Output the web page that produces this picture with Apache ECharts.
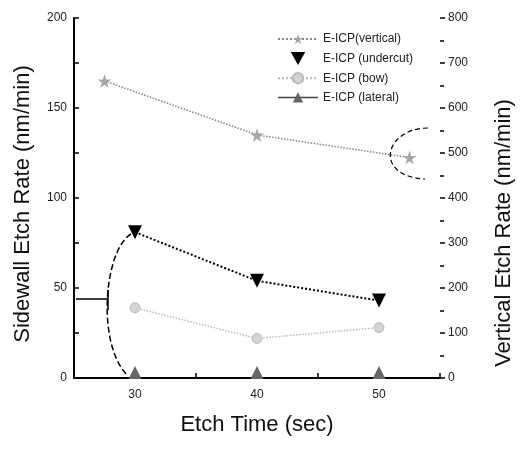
<!DOCTYPE html>
<html>
<head>
<meta charset="utf-8">
<script src="https://cdn.jsdelivr.net/npm/echarts@6/dist/echarts.min.js"></script>
<style>html,body{margin:0;padding:0;background:#fff}#c{width:525px;height:449px}</style>
</head>
<body>
<div id="c"></div>
<script>
// Data
var verticalTime = [27.5, 40, 52.5];
var verticalRate = [660, 540, 490];          // right axis (nm/min)
var etchTime = [30, 40, 50];
var undercutRate = [81, 54, 43];             // left axis
var bowRate = [39, 22, 28];                  // left axis
var lateralRate = [3, 3, 3];                 // left axis
var xTickLabels = [30, 40, 50];
var seriesNames = ['E-ICP(vertical)', 'E-ICP (undercut)', 'E-ICP (bow)', 'E-ICP (lateral)'];

function pairs(xs, ys) { return xs.map(function (x, i) { return [x, ys[i]]; }); }

var STAR = 'path://M50,0 L61,35 L98,35 L68,57 L79,91 L50,70 L21,91 L32,57 L2,35 L39,35 Z';
var DOWN_TRI = 'path://M0,0 L100,0 L50,90 Z';
var FONT = 'Liberation Sans';

var chart = echarts.init(document.getElementById('c'));
var axisLabel = { fontFamily: FONT, fontSize: 12, color: '#222' };
function nameStyle(pad) { return { fontFamily: FONT, fontSize: 22, color: '#111', padding: pad }; }

chart.setOption({
  animation: false,
  backgroundColor: '#fff',
  grid: { left: 74, right: 85, top: 18, bottom: 71 },
  legend: {
    orient: 'vertical', left: 272, top: 28, itemGap: 7, itemWidth: 40, itemHeight: 13,
    textStyle: { fontFamily: FONT, fontSize: 12, color: '#222' },
    data: [
      { name: seriesNames[0] },
      { name: seriesNames[1], icon: DOWN_TRI },
      { name: seriesNames[2] },
      { name: seriesNames[3], lineStyle: { opacity: 1, color: '#444', width: 1.5, type: 'solid' } }
    ]
  },
  xAxis: {
    type: 'value', min: 25, max: 55, interval: 5,
    name: 'Etch Time (sec)', nameLocation: 'middle', nameGap: 36, nameTextStyle: nameStyle(0),
    axisLine: { lineStyle: { color: '#000', width: 2 } },
    axisTick: { inside: true, length: 5, lineStyle: { color: '#000', width: 1.5 } },
    axisLabel: Object.assign({ margin: 11, formatter: function (v) { return xTickLabels.indexOf(v) >= 0 ? String(v) : ''; } }, axisLabel),
    splitLine: { show: false }
  },
  yAxis: [
    {
      type: 'value', min: 0, max: 200, interval: 50, position: 'left',
      name: 'Sidewall Etch Rate (nm/min)', nameLocation: 'middle', nameGap: 40, nameRotate: 90,
      nameTextStyle: nameStyle([0, 12, 0, 0]),
      axisLine: { show: true, lineStyle: { color: '#000', width: 2 } },
      axisTick: { show: true, inside: true, length: 5, lineStyle: { color: '#000', width: 1.5 } },
      minorTick: { show: true, splitNumber: 2, length: 5, lineStyle: { color: '#000', width: 1.5 } },
      axisLabel: Object.assign({ margin: 7 }, axisLabel),
      splitLine: { show: false }
    },
    {
      type: 'value', min: 0, max: 800, interval: 100, position: 'right',
      name: 'Vertical Etch Rate (nm/min)', nameLocation: 'middle', nameGap: 53, nameRotate: 90,
      nameTextStyle: nameStyle([0, 70, 0, 0]),
      axisLine: { show: false },
      axisTick: { show: true, inside: false, length: 5, lineStyle: { color: '#000', width: 1.5 } },
      minorTick: { show: true, splitNumber: 2, length: 4, lineStyle: { color: '#000', width: 1.5 } },
      axisLabel: Object.assign({ margin: 8 }, axisLabel),
      splitLine: { show: false }
    }
  ],
  series: [
    {
      name: seriesNames[0], type: 'line', yAxisIndex: 1, data: pairs(verticalTime, verticalRate),
      symbol: STAR, symbolSize: 14, itemStyle: { color: '#a8a8a8' },
      lineStyle: { color: '#888', width: 1.5, type: 'dotted' }
    },
    {
      name: seriesNames[1], type: 'line', yAxisIndex: 0, data: pairs(etchTime, undercutRate),
      symbol: 'triangle', symbolRotate: 180, symbolSize: 14, itemStyle: { color: '#000' },
      lineStyle: { color: '#000', width: 2, type: 'dotted' }
    },
    {
      name: seriesNames[2], type: 'line', yAxisIndex: 0, data: pairs(etchTime, bowRate),
      symbol: 'circle', symbolSize: 10, itemStyle: { color: '#d4d4d4', borderColor: '#bbb', borderWidth: 1 },
      lineStyle: { color: '#bbb', width: 1.5, type: 'dotted' }
    },
    {
      name: seriesNames[3], type: 'line', yAxisIndex: 0, data: pairs(etchTime, lateralRate),
      symbol: 'triangle', symbolSize: 13, itemStyle: { color: '#666' },
      lineStyle: { color: '#444', width: 1.5, opacity: 0 }
    }
  ],
  graphic: [
    { type: 'bezierCurve', silent: true, z: 5,
      shape: { x1: 131, y1: 234, cpx1: 104, cpy1: 250, cpx2: 96, cpy2: 345, x2: 128, y2: 376 },
      style: { stroke: '#000', lineWidth: 1.5, lineDash: [6, 3], fill: null } },
    { type: 'polyline', silent: true, z: 5,
      shape: { points: [[76, 299], [108, 299], [108, 290], [108, 310]] },
      style: { stroke: '#000', lineWidth: 1.5, fill: null } },
    { type: 'bezierCurve', silent: true, z: 5,
      shape: { x1: 428, y1: 128, cpx1: 385, cpy1: 128, cpx2: 372, cpy2: 176, x2: 425, y2: 179 },
      style: { stroke: '#000', lineWidth: 1.2, lineDash: [5, 3], fill: null } }
  ]
});
</script>
</body>
</html>
